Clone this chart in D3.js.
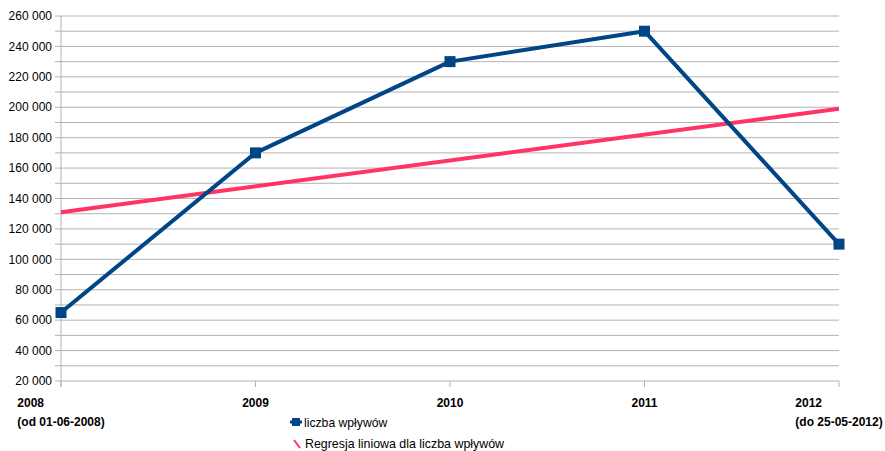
<!DOCTYPE html>
<html>
<head>
<meta charset="utf-8">
<script src="https://cdn.jsdelivr.net/npm/d3@7.9.0/dist/d3.min.js"></script>
<style>
  body { margin: 0; background: #fff; }
  text { font-family: "Liberation Sans", Arial, sans-serif; }
</style>
</head>
<body>
<svg id="chart" width="885" height="451"></svg>
<script>
const years = ["2008", "2009", "2010", "2011", "2012"];
const yearNotes = ["(od 01-06-2008)", "", "", "", "(do 25-05-2012)"];
const inflows = [65000, 170000, 230000, 250000, 110000];
const regressionEnds = [131000, 199000];
const yTicks = d3.range(20000, 260001, 20000);
const yGrid = d3.range(20000, 260001, 10000);

const svg = d3.select("#chart");
const margin = { top: 16, right: 46, bottom: 70, left: 61 };
const width = 885 - margin.left - margin.right;
const height = 451 - margin.top - margin.bottom;

const g = svg.append("g")
  .attr("transform", `translate(${margin.left},${margin.top})`);

const x = d3.scalePoint().domain(years).range([0, width]);
const y = d3.scaleLinear().domain([20000, 260000]).range([height, 0]);

const fmt = v => d3.format(",")(v).replace(/,/g, " ");

// gridlines
g.selectAll(".grid")
  .data(yGrid)
  .enter()
  .append("line")
  .attr("x1", -6)
  .attr("x2", width)
  .attr("y1", d => y(d))
  .attr("y2", d => y(d))
  .attr("stroke", "#b3b3b3")
  .attr("stroke-width", 1);

// y labels
g.selectAll(".ylab")
  .data(yTicks)
  .enter()
  .append("text")
  .attr("x", -9)
  .attr("y", d => y(d))
  .attr("dy", "0.35em")
  .attr("text-anchor", "end")
  .attr("font-size", "12px")
  .attr("fill", "#000")
  .text(d => fmt(d));

// y axis line
g.append("line")
  .attr("x1", 0).attr("x2", 0)
  .attr("y1", 0).attr("y2", height + 6)
  .attr("stroke", "#b3b3b3");

// x ticks
g.selectAll(".xtick")
  .data(years)
  .enter()
  .append("line")
  .attr("x1", d => x(d))
  .attr("x2", d => x(d))
  .attr("y1", height)
  .attr("y2", height + 6)
  .attr("stroke", "#b3b3b3");

// x labels: multi-line blocks centred on tick, lines left-aligned
years.forEach((yr, i) => {
  const lab = g.append("text")
    .attr("font-size", "12px")
    .attr("font-weight", "bold")
    .attr("fill", "#000");
  const t1 = lab.append("tspan").text(yr);
  let t2 = null;
  if (yearNotes[i]) t2 = lab.append("tspan").text(yearNotes[i]);
  const w1 = t1.node().getComputedTextLength();
  const w2 = t2 ? t2.node().getComputedTextLength() : 0;
  const bw = Math.max(w1, w2);
  const left = x(yr) - bw / 2;
  t1.attr("x", left).attr("y", height + 26);
  if (t2) t2.attr("x", left).attr("y", height + 45);
});

// regression line
g.append("line")
  .attr("x1", x(years[0]))
  .attr("x2", x(years[years.length - 1]))
  .attr("y1", y(regressionEnds[0]))
  .attr("y2", y(regressionEnds[1]))
  .attr("stroke", "#ff3366")
  .attr("stroke-width", 4);

// data line
const line = d3.line()
  .x((d, i) => x(years[i]))
  .y(d => y(d));

g.append("path")
  .datum(inflows)
  .attr("fill", "none")
  .attr("stroke", "#004586")
  .attr("stroke-width", 4)
  .attr("stroke-linejoin", "round")
  .attr("d", line);

g.selectAll(".marker")
  .data(inflows)
  .enter()
  .append("rect")
  .attr("x", (d, i) => x(years[i]) - 5.5)
  .attr("y", d => y(d) - 5.5)
  .attr("width", 11)
  .attr("height", 11)
  .attr("fill", "#004586");

// legend
const leg = svg.append("g");
leg.append("line")
  .attr("x1", 290).attr("x2", 302)
  .attr("y1", 422).attr("y2", 422)
  .attr("stroke", "#004586").attr("stroke-width", 3);
leg.append("rect")
  .attr("x", 292).attr("y", 418)
  .attr("width", 8).attr("height", 8)
  .attr("fill", "#004586");
leg.append("text")
  .attr("x", 304).attr("y", 427)
  .attr("font-size", "12.2px")
  .attr("fill", "#000")
  .text("liczba wpływów");

leg.append("line")
  .attr("x1", 294).attr("x2", 300)
  .attr("y1", 440).attr("y2", 448)
  .attr("stroke", "#ff3366").attr("stroke-width", 2);
leg.append("text")
  .attr("x", 305).attr("y", 448)
  .attr("font-size", "12.4px")
  .attr("fill", "#000")
  .text("Regresja liniowa dla liczba wpływów");
</script>
</body>
</html>
